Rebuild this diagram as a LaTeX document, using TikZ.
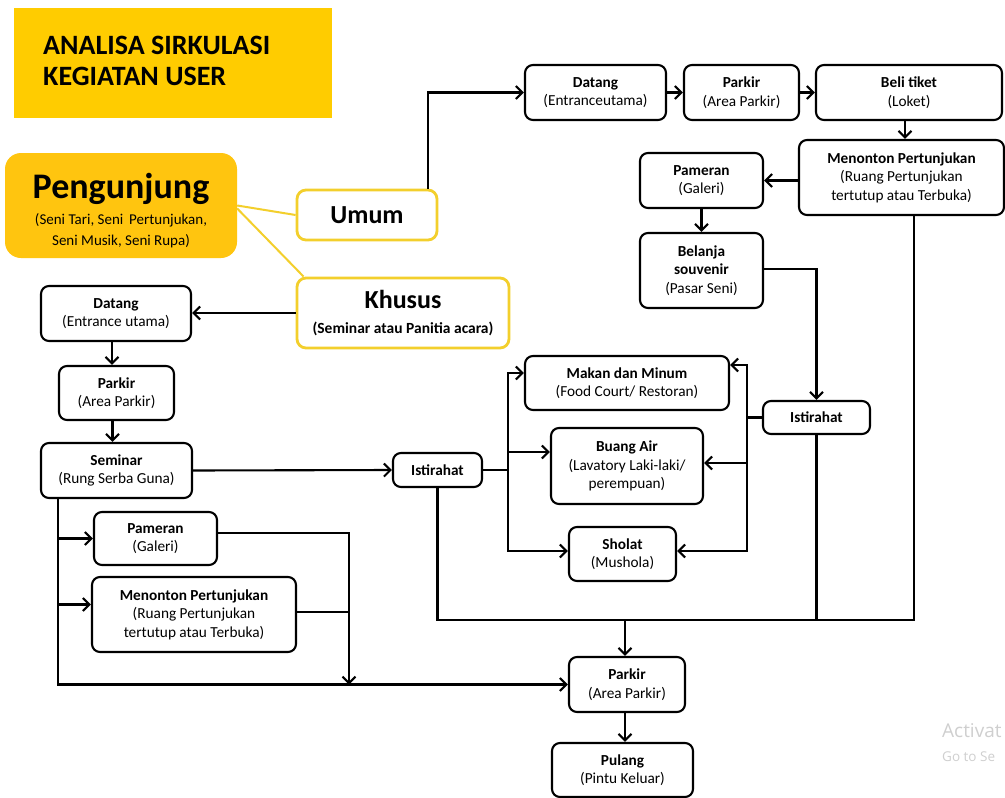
\documentclass[tikz,border=0pt]{standalone}
\usepackage{fontspec}
\setmainfont{Carlito}
\newfontfamily\wmfont{Open Sans}
\usetikzlibrary{arrows.meta,calc}

\definecolor{titlegold}{HTML}{FFCC00}
\definecolor{visitgold}{HTML}{FFC50F}
\definecolor{ringgold}{HTML}{F3CF2C}

\tikzset{
  stepbox/.style={draw=black, line width=2.1pt, rounded corners=8pt, fill=white,
    align=center, inner sep=0pt, font=\fontsize{15.3}{18.5}\selectfont},
  catbox/.style={draw=ringgold, line width=2.8pt, rounded corners=9pt, fill=white,
    align=center, inner sep=0pt},
  flow/.style={line width=2.1pt, draw=black},
  arr/.style={flow, -{Straight Barb[length=6.5pt,width=13pt]}},
  yline/.style={draw=ringgold, line width=2pt},
}

\begin{document}
\begin{tikzpicture}[x=1pt,y=-1pt]
\useasboundingbox (0,0) rectangle (1005,798);
\fill[white] (0,0) rectangle (1005,798);

% heading
\node[fill=titlegold, minimum width=318pt, minimum height=110pt, inner sep=0pt] (title) at (173,63) {};
\node[anchor=west, align=left, inner sep=0pt, font=\fontsize{28}{31}\selectfont\bfseries] (titletext) at (43,61)
  {ANALISA SIRKULASI\\KEGIATAN USER};

% visitor groups
\node[fill=visitgold, rounded corners=16pt, minimum width=232pt, minimum height=105pt, inner sep=0pt, align=center,
      font=\fontsize{15}{19}\selectfont] (peng) at (121,205.5)
  {{\fontsize{36}{36}\selectfont\bfseries\rule{0pt}{35pt}Pengunjung}\\[7pt]
   (Seni Tari, Seni\, Pertunjukan,\\[1.5pt]Seni Musik, Seni Rupa)};
\node[catbox, minimum width=140pt, minimum height=50pt, font=\fontsize{26}{30}\selectfont\bfseries] (umum) at (367,215) {Umum};
\node[catbox, minimum width=212pt, minimum height=70pt, font=\bfseries\fontsize{15.5}{18}\selectfont] (khusus) at (403,313)
  {{\fontsize{26}{28}\selectfont Khusus}\\[7pt](Seminar atau Panitia acara)};

\draw[yline] (peng.east) -- (umum.west);
\draw[yline] ([yshift=-3]peng.east) -- ([xshift=8]khusus.north west);

% general visitors
\node[stepbox, minimum width=141pt, minimum height=55pt] (datang1) at (595.5,92.5) {\textbf{Datang}\\(Entranceutama)};
\node[stepbox, minimum width=115pt, minimum height=55pt] (parkir1) at (741.5,92.5) {\textbf{Parkir}\\(Area Parkir)};
\node[stepbox, minimum width=186pt, minimum height=55pt] (tiket) at (909,92.5) {\textbf{Beli tiket}\\(Loket)};
\node[stepbox, minimum width=205pt, minimum height=75pt] (menonton1) at (901.5,177.5) {\textbf{Menonton Pertunjukan}\\(Ruang Pertunjukan\\tertutup atau Terbuka)};
\node[stepbox, minimum width=123pt, minimum height=55pt] (pameran1) at (701.5,180.5) {\textbf{Pameran}\\(Galeri)};
\node[stepbox, minimum width=123pt, minimum height=75pt] (belanja) at (701.5,270.5) {\textbf{Belanja}\\\textbf{souvenir}\\(Pasar Seni)};
\node[stepbox, minimum width=107pt, minimum height=33pt] (ist2) at (816.5,417.5) {\textbf{Istirahat}};

% facilities
\node[stepbox, minimum width=204pt, minimum height=54pt] (makan) at (627,383) {\textbf{Makan dan Minum}\\(Food Court/ Restoran)};
\node[stepbox, minimum width=152pt, minimum height=76pt] (buang) at (627,466) {\textbf{Buang Air}\\(Lavatory Laki-laki/\\perempuan)};
\node[stepbox, minimum width=107pt, minimum height=54pt] (sholat) at (622.5,554) {\textbf{Sholat}\\(Mushola)};
\node[stepbox, minimum width=89pt, minimum height=34pt] (ist1) at (437.5,470) {\textbf{Istirahat}};

% special visitors
\node[stepbox, minimum width=150pt, minimum height=55pt] (datang2) at (116,313.5) {\textbf{Datang}\\(Entrance utama)};
\node[stepbox, minimum width=115pt, minimum height=54pt] (parkir2) at (116.5,393) {\textbf{Parkir}\\(Area Parkir)};
\node[stepbox, minimum width=151pt, minimum height=55pt] (seminar) at (116.5,470.5) {\textbf{Seminar}\\(Rung Serba Guna)};
\node[stepbox, minimum width=123pt, minimum height=53pt] (pameran2) at (155.5,538.5) {\textbf{Pameran}\\(Galeri)};
\node[stepbox, minimum width=204pt, minimum height=75pt] (menonton2) at (194,614.5) {\textbf{Menonton Pertunjukan}\\(Ruang Pertunjukan\\tertutup atau Terbuka)};

% exit
\node[stepbox, minimum width=116pt, minimum height=55pt] (parkir3) at (627,684.5) {\textbf{Parkir}\\(Area Parkir)};
\node[stepbox, minimum width=141pt, minimum height=54pt] (pulang) at (622.5,770) {\textbf{Pulang}\\(Pintu Keluar)};

% junction points
\coordinate (bus) at (625,620);
\coordinate (rv) at (747,417.5);
\coordinate (lv) at (508,470);
\coordinate (mj) at (349,684.5);

% general flow
\draw[arr] ([xshift=61]umum.north) |- (datang1.west);
\draw[arr] (datang1) -- (parkir1);
\draw[arr] (parkir1) -- (tiket);
\draw[arr] ([xshift=-4]tiket.south) -- ([xshift=-4]tiket.south |- menonton1.north);
\draw[arr] (menonton1.west |- pameran1) -- (pameran1.east);
\draw[arr] (pameran1) -- (belanja);
\draw[arr] ([yshift=1.5]belanja.east) -| (ist2.north);

% rest area branches
\draw[flow] (ist2.west) -- (rv);
\draw[arr] (rv) |- ([yshift=18]makan.east);
\draw[arr] (rv) |- ([yshift=3]buang.east);
\draw[arr] (rv) |- ([yshift=3]sholat.east);
\draw[flow] (ist1.east) -- (lv);
\draw[arr] (lv) |- ([yshift=10]makan.west);
\draw[arr] (lv) |- ([yshift=14]buang.west);
\draw[arr] (lv) |- ([yshift=3]sholat.west);

% collecting line to the exit
\draw[flow] (ist1.south) |- ([xshift=12.5]menonton1.south |- bus) -- ([xshift=12.5]menonton1.south);
\draw[flow] (ist2.south) -- (ist2.south |- bus);
\draw[arr] (bus) -- (bus |- parkir3.north);
\draw[arr] (bus |- parkir3.south) -- (bus |- pulang.north);

% special flow
\draw[arr] (khusus.west) -- (khusus.west -| datang2.east);
\draw[arr] ([xshift=-4]datang2.south) -- ([xshift=-4]datang2.south |- parkir2.north);
\draw[arr] ([xshift=-4]parkir2.south) -- ([xshift=-4]parkir2.south |- seminar.north);
\draw[arr] (seminar.east) -- (ist1.west);
\draw[arr] ([xshift=18]seminar.south west) |- (parkir3.west);
\draw[arr] ([xshift=18]seminar.south west |- pameran2.west) -- (pameran2.west);
\draw[arr] ([xshift=18]seminar.south west |- menonton2.west) ++(0,-10) -- ([yshift=10]menonton2.west);
\draw[arr] ([yshift=5.5]pameran2.east) -| (mj);
\draw[flow] ([yshift=2.5]menonton2.east) -- ([yshift=2.5]menonton2.east -| mj);

% system watermark
\node[anchor=west, inner sep=0pt, text=gray!38, font=\wmfont\fontsize{19}{22}\selectfont] (wm1) at (942,731) {Activat};
\node[anchor=west, inner sep=0pt, text=gray!38, font=\wmfont\fontsize{13.5}{16}\selectfont] (wm2) at (942,757) {Go to Se};
\end{tikzpicture}
\end{document}
